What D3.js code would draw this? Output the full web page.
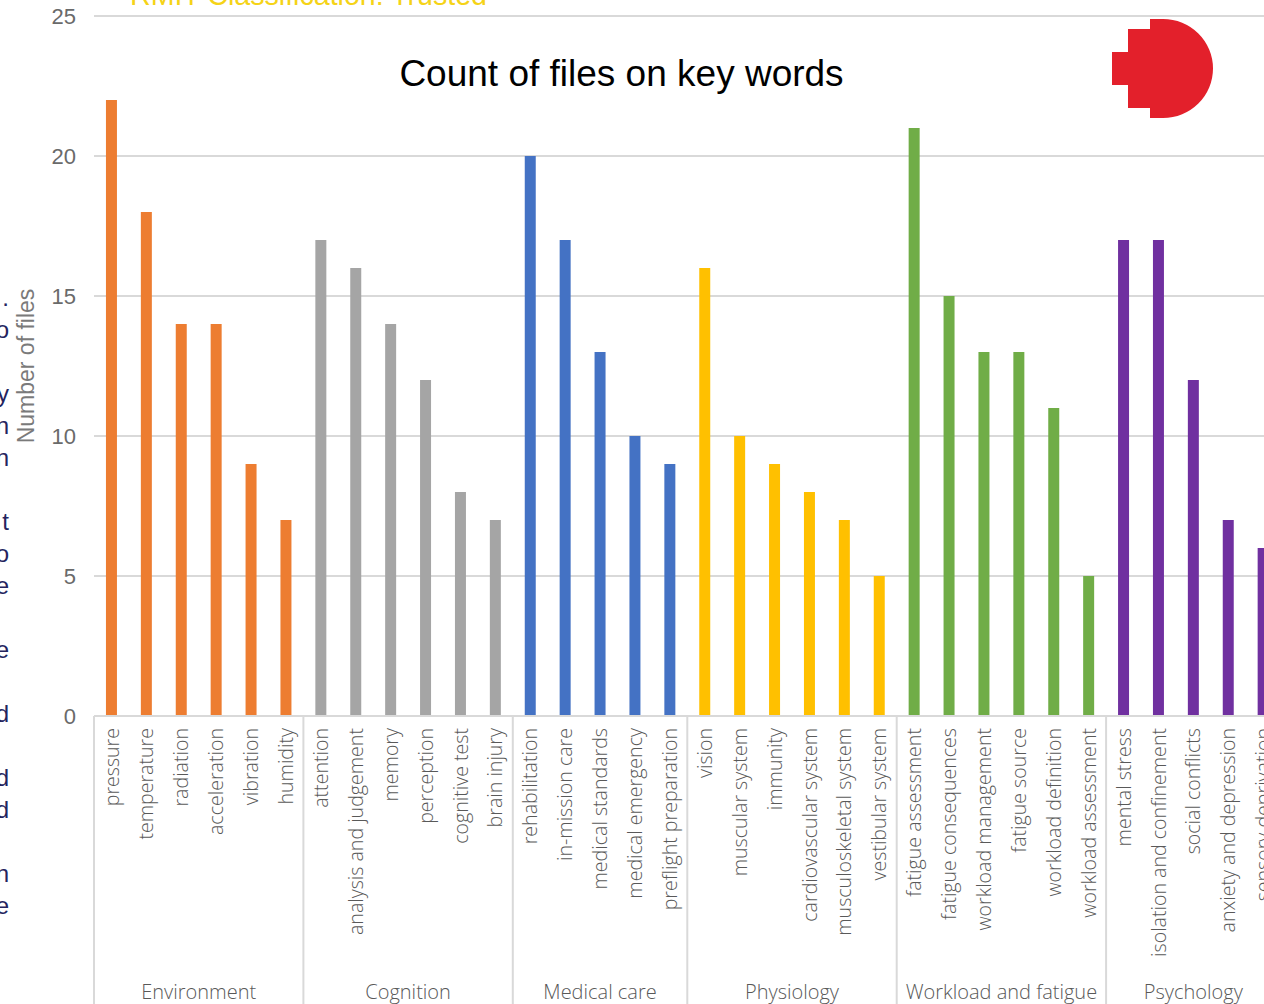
<!DOCTYPE html>
<html>
<head>
<meta charset="utf-8">
<script src="https://cdn.jsdelivr.net/npm/d3@7"></script>
<style>
  html, body { margin: 0; padding: 0; background: #fff; overflow: hidden; }
  svg { display: block; }
</style>
</head>
<body>
<svg id="chart" width="1264" height="1004"></svg>
<script>
// ---- data ----
const groups = ["Environment", "Cognition", "Medical care", "Physiology", "Workload and fatigue", "Psychology"];
const groupColors = ["#ED7D31", "#A5A5A5", "#4472C4", "#FFC000", "#70AD47", "#7030A0"];
const categories = [
  "pressure", "temperature", "radiation", "acceleration", "vibration", "humidity",
  "attention", "analysis and judgement", "memory", "perception", "cognitive test", "brain injury",
  "rehabilitation", "in-mission care", "medical standards", "medical emergency", "preflight preparation",
  "vision", "muscular system", "immunity", "cardiovascular system", "musculoskeletal system", "vestibular system",
  "fatigue assessment", "fatigue consequences", "workload management", "fatigue source", "workload definition", "workload assessment",
  "mental stress", "isolation and confinement", "social conflicts", "anxiety and depression", "sensory deprivation"
];
const categoryGroup = [
  0,0,0,0,0,0,
  1,1,1,1,1,1,
  2,2,2,2,2,
  3,3,3,3,3,3,
  4,4,4,4,4,4,
  5,5,5,5,5
];
const values = [
  22, 18, 14, 14, 9, 7,
  17, 16, 14, 12, 8, 7,
  20, 17, 13, 10, 9,
  16, 10, 9, 8, 7, 5,
  21, 15, 13, 13, 11, 5,
  17, 17, 12, 7, 6
];
const yTicks = [0, 5, 10, 15, 20, 25];
const sideLetters = [".", "o", "", "y", "n", "n", "", "t", "o", "e", "", "e", "", "d", "", "d", "d", "", "n", "e"];

// ---- layout ----
const svg = d3.select("#chart");
const W = 1264, H = 1004;
const plotLeft = 94, step = 34.9;
const plotRight = plotLeft + step * categories.length;
const plotTop = 16, plotBottom = 716;

const x = d3.scaleBand().domain(categories).range([plotLeft, plotRight])
  .paddingInner(0.685).paddingOuter(0.3425);
const y = d3.scaleLinear().domain([0, 25]).range([plotBottom, plotTop]);

// classification banner (cut off at top)
svg.append("text").attr("x", 130).attr("y", 5)
  .attr("font-family", "Liberation Sans, Arial, sans-serif").attr("font-size", 28.6)
  .attr("fill", "#F5D317").text("RMIT Classification: Trusted");

// cut-off slide text on left edge
svg.append("g").selectAll("text").data(sideLetters).join("text")
  .attr("x", 9).attr("y", (d, i) => 306 + i * 32)
  .attr("text-anchor", "end")
  .attr("font-family", "Liberation Sans, Arial, sans-serif").attr("font-size", 24)
  .attr("fill", "#24245e").text(d => d);

// gridlines
svg.append("g").selectAll("line").data(yTicks).join("line")
  .attr("x1", plotLeft).attr("x2", W + 20)
  .attr("y1", d => y(d)).attr("y2", d => y(d))
  .attr("stroke", "#d9d9d9").attr("stroke-width", 2);

// y tick labels
svg.append("g").selectAll("text").data(yTicks).join("text")
  .attr("x", 76).attr("y", d => y(d)).attr("dy", "0.36em")
  .attr("text-anchor", "end")
  .attr("font-family", "Liberation Sans, Arial, sans-serif").attr("font-size", 22)
  .attr("fill", "#6a6a6a").text(d => d);

// y axis title
svg.append("text")
  .attr("transform", "translate(34,366) rotate(-90)")
  .attr("text-anchor", "middle")
  .attr("font-family", "Liberation Sans, Arial, sans-serif").attr("font-size", 23)
  .attr("fill", "#7a7a7a").text("Number of files");

// title
svg.append("text").attr("x", 621.5).attr("y", 86)
  .attr("text-anchor", "middle")
  .attr("font-family", "Liberation Sans, Arial, sans-serif").attr("font-size", 37)
  .attr("fill", "#000").text("Count of files on key words");

// logo
svg.append("path").attr("fill", "#E3202B").attr("d",
  "M1150,19 L1163,19 A50,49.5 0 0 1 1163,118 L1150,118 L1150,108 L1128,108 L1128,85 L1112,85 L1112,52 L1128,52 L1128,29 L1150,29 Z");

// bars
svg.append("g").selectAll("rect").data(categories).join("rect")
  .attr("x", d => x(d))
  .attr("width", x.bandwidth())
  .attr("y", (d, i) => y(values[i]))
  .attr("height", (d, i) => y(0) - y(values[i]))
  .attr("fill", (d, i) => groupColors[categoryGroup[i]]);

// axis baseline
svg.append("line").attr("x1", plotLeft).attr("x2", W + 20)
  .attr("y1", y(0)).attr("y2", y(0))
  .attr("stroke", "#d9d9d9").attr("stroke-width", 2);

// category labels
svg.append("g").selectAll("text").data(categories).join("text")
  .attr("transform", d => `translate(${x(d) + x.bandwidth() / 2},728) rotate(-90)`)
  .attr("dy", "0.36em")
  .attr("text-anchor", "end")
  .attr("font-family", "Open Sans, sans-serif").attr("font-weight", 300).attr("font-size", 19.6)
  .attr("fill", "#595959").text(d => d);

// group boundaries
const counts = groups.map((g, gi) => categoryGroup.filter(c => c === gi).length);
const bounds = [0];
counts.forEach(c => bounds.push(bounds[bounds.length - 1] + c));
const bx = i => plotLeft + x.step() * i;
svg.append("g").selectAll("line").data(bounds).join("line")
  .attr("x1", d => bx(d)).attr("x2", d => bx(d))
  .attr("y1", y(0)).attr("y2", H + 10)
  .attr("stroke", "#d9d9d9").attr("stroke-width", 2);

// group labels
svg.append("g").selectAll("text").data(groups).join("text")
  .attr("x", (g, i) => (bx(bounds[i]) + bx(bounds[i + 1])) / 2)
  .attr("y", 999)
  .attr("text-anchor", "middle")
  .attr("font-family", "Open Sans, sans-serif").attr("font-weight", 300).attr("font-size", 20)
  .attr("fill", "#595959").text(d => d);
</script>
</body>
</html>
